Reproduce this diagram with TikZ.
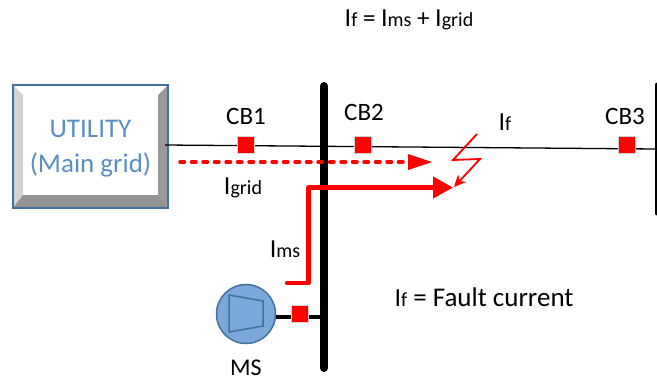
\documentclass[tikz,border=0pt]{standalone}
\usepackage{fontspec}
\setmainfont{Carlito}
\usepackage{tikz}
\usetikzlibrary{arrows.meta, positioning, calc}
\definecolor{boxblue}{HTML}{41719C}
\definecolor{textblue}{HTML}{5B8FC4}
\definecolor{motorblue}{HTML}{7BA7DA}
\newcommand{\Isub}[1]{{\fontsize{26}{26}\selectfont I}{\fontsize{20}{20}\selectfont #1}}
\tikzset{
    cbbox/.style={draw=gray!35, line width=0.8pt, fill=red, minimum size=17pt, inner sep=0pt},
    lbl/.style={font=\fontsize{25}{27}\selectfont, inner sep=0pt, text=black},
    redhead/.style={-{Triangle[length=20pt, width=21pt]}},
}
\begin{document}
\begin{tikzpicture}[x=1pt, y=-1pt]
        \useasboundingbox (0,0) rectangle (657,381);

        % Utility box with bevel
        \fill[white] (13,85) rectangle (168,208);
        \fill[gray!35] (13,85) -- (23,95) -- (23,195) -- (13,208) -- cycle;
        \fill[gray!80] (168,85) -- (158,95) -- (158,195) -- (168,208) -- cycle;
        \fill[gray!85] (13,208) -- (23,195) -- (158,195) -- (168,208) -- cycle;
        \node[draw=boxblue, line width=1.5pt, minimum width=155pt, minimum height=123pt, inner sep=0pt] (utility) at (90.5,146.5) {};
        \node[font=\fontsize{27}{35}\selectfont, text=textblue, align=center, inner sep=0pt] (utilitytext) at (90.5,149) {UTILITY\\(Main grid)};

        % Bus bars
        \coordinate (busTop) at (324,86);
        \coordinate (busBot) at (324,368);
        \coordinate (farTop) at (656,84);
        \coordinate (farBot) at (656,214);
        \draw[line width=8pt, line cap=round] (busTop) -- (busBot);
        \draw[line width=3pt, line cap=round] (farTop) -- (farBot);

        % Main line
        \coordinate (lineL) at (165,145);
        \coordinate (lineR) at (656,149);
        \draw[line width=1.3pt] (lineL) -- (lineR);

        % Motor
        \node[circle, draw=boxblue, line width=1.5pt, fill=motorblue, minimum size=59pt, inner sep=0pt] (motor) at (246,314) {};
        \draw[boxblue, line width=1.5pt] (229,295) -- (263,301) -- (263,326) -- (229,332) -- cycle;
        \coordinate (busTap) at (324,317);
        \draw[line width=3.5pt] (motor.east |- busTap) -- (busTap);

        % Breakers
        \node[cbbox] (cb1) at (246,145) {};
        \node[cbbox] (cb2) at (363,145) {};
        \node[cbbox] (cb3) at (627,145) {};
        \node[cbbox] (cb4) at (300,313.5) {};

        % Grid current, dotted
        \coordinate (gridFrom) at (180,162);
        \coordinate (gridTo) at (432,162);
        \draw[red, line width=3.5pt, dash pattern=on 4.5pt off 7pt, line cap=round] (gridFrom) -- (410,162);
        \fill[red] (408,154) -- (gridTo) -- (408,170) -- cycle;

        % Motor current
        \coordinate (msFrom) at (287,283);
        \coordinate (msCorner) at (308.5,187.5);
        \coordinate (msTo) at (453,187.5);
        \draw[red, line width=4.5pt, line cap=round, line join=round, redhead] (msFrom) -- (msFrom -| msCorner) -- (msCorner) -- (msTo);

        % Fault bolt
        \coordinate (boltStart) at (477,134);
        \coordinate (boltEnd) at (454,187);
        \draw[red, line width=1.8pt, -{Stealth[length=12pt, width=11pt]}] (boltStart) -- (453,160) -- (480,159) -- (boltEnd);

        % Labels
        \node[lbl] (cb1lbl) at (246,116) {CB1};
        \node[lbl] (cb2lbl) at (364,112) {CB2};
        \node[lbl] (cb3lbl) at (625,116) {CB3};
        \node[lbl] (iflbl) at (505,122) {\Isub{f}};
        \node[lbl] (igridlbl) at (243,188) {\Isub{grid}};
        \node[lbl] (imslbl) at (285,249) {\Isub{ms}};
        \node[lbl, font=\fontsize{24}{26}\selectfont] (mslbl) at (246,368) {MS};
        \node[lbl] (sumlbl) at (409,20) {\Isub{f} = \Isub{ms} + \Isub{grid}};
        \node[lbl, font=\fontsize{27}{29}\selectfont] (faultlbl) at (484,297) {\Isub{f} = Fault current};
\end{tikzpicture}
\end{document}
